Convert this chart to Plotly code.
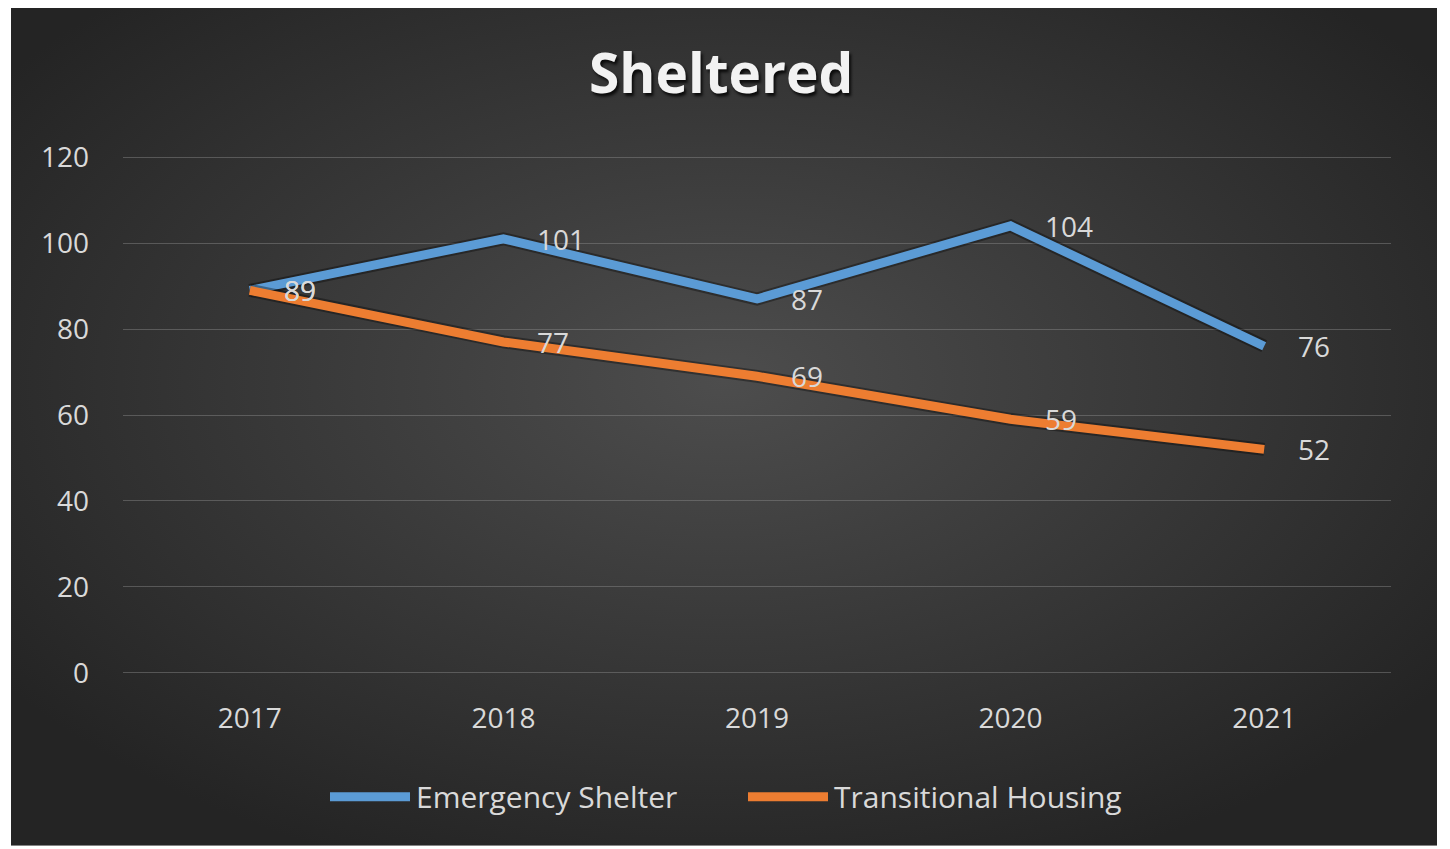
import plotly.graph_objects as go
import base64

years = ["2017", "2018", "2019", "2020", "2021"]
emergency = [89, 101, 87, 104, 76]
transitional = [89, 77, 69, 59, 52]
series_names = ["Emergency Shelter", "Transitional Housing"]
colors = ["#5B9BD5", "#ED7D31"]
y_ticks = [0, 20, 40, 60, 80, 100, 120]

W, H = 1450, 849
OFF = 8  # page body margin in the browser
PPU = (673 - 157) / 120.0
YPAD = 0.5
L, R = 123 - OFF, 1391 - OFF
T = 157 - OFF - YPAD * PPU
B = 673 - OFF + YPAD * PPU

def px(x):
    return (x - OFF - L) / (R - L)

def py(y):
    return (B - (y - OFF)) / (B - T)

FONT = "Open Sans"
TXT = "#d9d9d9"

fig = go.Figure()
xi = list(range(len(years)))
for name, vals, c in zip(series_names, [emergency, transitional], colors):
    fig.add_trace(go.Scatter(x=xi, y=vals, mode="lines",
                             line=dict(color="rgba(0,0,0,0.35)", width=13),
                             hoverinfo="skip", showlegend=False))
    fig.add_trace(go.Scatter(x=xi, y=vals, mode="lines", name=name,
                             line=dict(color=c, width=9), showlegend=False))

annotations = []
for vals in [emergency, transitional]:
    for i, v in zip(xi, vals):
        annotations.append(dict(x=i, y=v, xref="x", yref="y", text=str(v),
                                showarrow=False, xanchor="left", yanchor="middle",
                                xshift=32, font=dict(family=FONT, size=28, color=TXT)))

shapes = []
leg_items = [(330, 410, 414, series_names[0], colors[0]),
             (748, 828, 832, series_names[1], colors[1])]
for x0, x1, tx, name, c in leg_items:
    shapes.append(dict(type="line", xref="paper", yref="paper",
                       x0=px(x0), x1=px(x1), y0=py(797), y1=py(797),
                       line=dict(color=c, width=9)))
    annotations.append(dict(x=px(tx), y=py(797), xref="paper", yref="paper",
                            text=name, showarrow=False, xanchor="left", yanchor="middle",
                            font=dict(family=FONT, size=30, color=TXT)))

annotations.append(dict(x=px(721), y=py(71), xref="paper", yref="paper",
                        text="<b>Sheltered</b>", showarrow=False, xanchor="center",
                        yanchor="middle",
                        font=dict(family=FONT, size=55, color="#f2f2f2",
                                  shadow="2px 3px 3px rgba(0,0,0,0.8)")))

svg = f'''<svg xmlns="http://www.w3.org/2000/svg" width="{W}" height="{H}" viewBox="0 0 {W} {H}" preserveAspectRatio="none">
<defs><radialGradient id="g" cx="50%" cy="45%" r="62%">
<stop offset="0%" stop-color="#4d4d4d"/><stop offset="100%" stop-color="#242424"/>
</radialGradient></defs><rect width="{W}" height="{H}" fill="url(#g)"/></svg>'''
src = "data:image/svg+xml;base64," + base64.b64encode(svg.encode()).decode()

bx0, bx1, by0, by1 = 11, 1437, 0, 846
images = [dict(source=src, xref="paper", yref="paper", x=px(bx0), y=py(by0),
               sizex=px(bx1) - px(bx0), sizey=py(by0) - py(by1),
               xanchor="left", yanchor="top", sizing="stretch", layer="below")]

fig.update_layout(
    width=W, height=H,
    margin=dict(l=L, r=W - R, t=T, b=H - B),
    paper_bgcolor="white", plot_bgcolor="rgba(0,0,0,0)",
    showlegend=False,
    annotations=annotations, shapes=shapes, images=images,
    xaxis=dict(tickmode="array", tickvals=xi, ticktext=years,
               showgrid=False, zeroline=False, showline=False,
               ticks="", tickfont=dict(family=FONT, size=28, color=TXT),
               ticklabelstandoff=24, range=[-0.5, 4.5]),
    yaxis=dict(range=[-YPAD, 120 + YPAD], tickvals=y_ticks, showgrid=True,
               gridcolor="rgba(140,140,140,0.45)", gridwidth=1, zeroline=False,
               showline=False, ticks="", ticklabelstandoff=33,
               tickfont=dict(family=FONT, size=28, color=TXT)),
)

fig.write_html("out.html")
